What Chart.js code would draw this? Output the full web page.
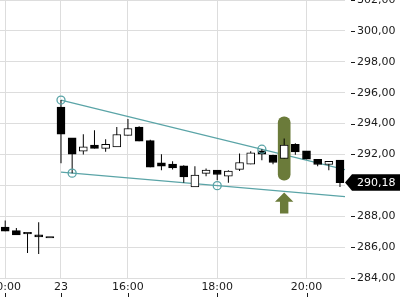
<!DOCTYPE html>
<html><head><meta charset="utf-8">
<script src="https://cdn.jsdelivr.net/npm/chart.js@4.4.1/dist/chart.umd.min.js"></script>
<style>html,body{margin:0;padding:0;background:#fff;}#wrap{width:400px;height:300px;}</style>
</head><body><div id="wrap"><canvas id="c" width="400" height="300"></canvas></div>
<script>
// ---- data ----
const candleX = [-5,-4,-3,-2,-1,0,1,2,3,4,5,6,7,8,9,10,11,12,13,14,15,16,17,18,19,20,21,22,23,24,25];
const openV  = [287.29,287.07,286.86,286.79,286.59,295.06,293.07,292.21,292.60,292.39,292.49,293.23,293.77,292.89,291.45,291.37,291.26,289.90,290.77,290.98,290.59,291.03,291.37,292.23,291.95,291.74,292.65,292.23,291.69,291.35,291.63];
const highV  = [287.72,287.24,286.90,287.61,286.59,295.52,293.07,293.31,293.57,292.99,293.77,294.29,293.83,292.95,292.02,291.56,291.30,291.24,291.09,290.98,290.98,292.06,292.21,292.34,291.98,293.03,292.73,292.23,291.69,291.56,291.63];
const lowV   = [287.03,286.79,285.62,285.56,286.59,291.43,290.79,292.00,292.39,292.17,292.49,293.23,292.86,291.17,290.98,291.03,290.16,289.90,290.59,290.33,290.16,290.93,291.37,291.63,291.37,291.74,291.98,291.69,291.24,290.98,289.90];
const closeV = [287.03,286.79,286.86,286.66,286.59,293.31,292.02,292.49,292.39,292.65,293.29,293.68,292.86,291.17,291.24,291.13,290.55,290.66,290.98,290.70,290.92,291.48,292.10,292.02,291.48,292.60,292.17,291.69,291.35,291.56,290.18];
const tickPositions = [-5,0,6,14,22];
const tickLabels = ['20:00','23','16:00','18:00','20:00'];
const upperTrend = [{x:0,y:295.52},{x:25.45,y:291.02}];
const lowerTrend = [{x:0,y:290.85},{x:25.45,y:289.27}];
const touchPoints = [{x:0,y:295.52},{x:18,y:292.34},{x:1,y:290.79},{x:14,y:289.98}];
const highlight = [{x:20,y:[290.33,294.43]}];
const arrowX = 20, arrowTip = 289.53, arrowBase = 288.93, arrowBottom = 288.17;

const TEAL = '#5aa4a7', OLIVE = '#6b7b3a', TXT = '#1a1a1a', GRID = '#dddddd';
const FONT = {family:'DejaVu Sans', size:11};

const decor = {
  id:'decor',
  afterDatasetsDraw(chart){
    const {ctx, scales:{x,y}} = chart;
    const cx = x.getPixelForValue(arrowX);
    const t = y.getPixelForValue(arrowTip), b = y.getPixelForValue(arrowBase), e = y.getPixelForValue(arrowBottom);
    ctx.save();
    ctx.fillStyle = OLIVE;
    ctx.beginPath();
    ctx.moveTo(cx, t);
    ctx.lineTo(cx+9.2, b);
    ctx.lineTo(cx+4.2, b);
    ctx.lineTo(cx+4.2, e);
    ctx.lineTo(cx-4.2, e);
    ctx.lineTo(cx-4.2, b);
    ctx.lineTo(cx-9.2, b);
    ctx.closePath();
    ctx.fill();
    ctx.restore();
  },
  afterDraw(chart){
    const {ctx, scales:{x,y}, chartArea} = chart;
    ctx.save();
    ctx.fillStyle = TXT;
    y.ticks.forEach(tk=>{
      const py = Math.round(y.getPixelForValue(tk.value));
      ctx.fillRect(chartArea.right+6, py, 4, 1);
    });
    x.ticks.forEach(tk=>{
      const px = Math.round(x.getPixelForValue(tk.value));
      ctx.fillRect(px, 293, 1, 4);
    });
    // price tag
    const last = closeV[closeV.length-1];
    const py = y.getPixelForValue(last);
    const L = chartArea.right;
    ctx.fillStyle = '#000';
    ctx.beginPath();
    ctx.moveTo(L, py);
    ctx.lineTo(L+7, py-8.3);
    ctx.lineTo(400, py-8.3);
    ctx.lineTo(400, py+8.3);
    ctx.lineTo(L+7, py+8.3);
    ctx.closePath();
    ctx.fill();
    ctx.fillStyle = '#fff';
    ctx.font = '11px "DejaVu Sans"';
    ctx.textBaseline = 'middle';
    ctx.textAlign = 'left';
    ctx.fillText(last.toFixed(2).replace('.', ','), L+12, py+0.5);
    ctx.restore();
  }
};

new Chart(document.getElementById('c'), {
  type:'bar',
  data:{
    datasets:[
      {type:'line', data:upperTrend, borderColor:TEAL, borderWidth:1.3, pointRadius:0, order:10},
      {type:'line', data:lowerTrend, borderColor:TEAL, borderWidth:1.3, pointRadius:0, order:10},
      {type:'bar', data:highlight, backgroundColor:OLIVE, barThickness:12, borderRadius:6, borderSkipped:false, grouped:false, order:8},
      {type:'bar', data:candleX.map((v,i)=>({x:v, y:[lowV[i], highV[i]]})), backgroundColor:'#000', barThickness:1, inflateAmount:0, grouped:false, order:6},
      {type:'bar', data:candleX.map((v,i)=>({x:v, y:[openV[i], closeV[i]]})),
        backgroundColor:candleX.map((v,i)=> closeV[i] > openV[i] ? '#ffffff' : '#000000'),
        borderColor:'#000', borderWidth:1, borderSkipped:false, barThickness:8, minBarLength:1.5, grouped:false, order:4},
      {type:'line', data:touchPoints, showLine:false, pointRadius:4, pointBorderColor:TEAL, pointBackgroundColor:'rgba(0,0,0,0)', pointBorderWidth:1.3, order:2}
    ]
  },
  options:{
    responsive:false, animation:false, devicePixelRatio:1,
    layout:{padding:0, autoPadding:false},
    plugins:{legend:{display:false}, tooltip:{enabled:false}},
    scales:{
      x:{type:'linear', min:-5.466, max:25.45, offset:false,
        grid:{color:GRID, drawTicks:false, offset:false}, border:{display:false},
        ticks:{font:FONT, color:TXT, padding:3, autoSkip:false, maxRotation:0,
          callback:(v)=>{const k = tickPositions.indexOf(v); return k>=0 ? tickLabels[k] : '';}},
        afterBuildTicks:(s)=>{s.ticks = tickPositions.map(v=>({value:v}));},
        afterFit:(s)=>{s.height = 22; s.paddingLeft = 0; s.paddingRight = 0;}
      },
      y:{type:'linear', position:'right', min:284, max:302,
        grid:{color:GRID, drawTicks:false}, border:{display:false},
        ticks:{font:FONT, color:TXT, padding:12, stepSize:2,
          callback:(v)=>Number(v).toFixed(2).replace('.', ',')},
        afterFit:(s)=>{s.width = 55; s.paddingTop = 0; s.paddingBottom = 0;}
      }
    }
  },
  plugins:[decor]
});
</script></body></html>
